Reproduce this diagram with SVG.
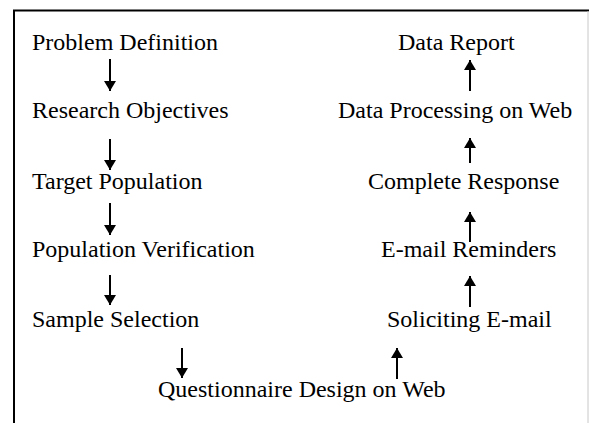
<svg xmlns="http://www.w3.org/2000/svg" width="589" height="423" viewBox="0 0 589 423">
<style>
text{font-family:"Liberation Serif","Times New Roman",serif;font-size:24px;fill:#000}
.c{stroke:#000;stroke-width:2;fill:none}
</style>
<defs>
<marker id="ah" viewBox="0 0 10 12" refX="10" refY="6" markerWidth="10" markerHeight="12" markerUnits="userSpaceOnUse" orient="auto">
<path d="M0,0 L10,6 L0,12 z" fill="#000"/>
</marker>
</defs>
<rect width="589" height="423" fill="#fff"/>
<g id="frame">
<line x1="13" y1="10.5" x2="589" y2="10.5" stroke="#000" stroke-width="2"/>
<line x1="14" y1="10" x2="14" y2="423" stroke="#000" stroke-width="2"/>
<line x1="588" y1="11" x2="588" y2="423" stroke="#c8c8c8" stroke-width="1"/>
</g>
<g id="n1"><text x="32" y="50">Problem Definition</text></g>
<g id="n2"><text x="32" y="118">Research Objectives</text></g>
<g id="n3"><text x="32" y="189">Target Population</text></g>
<g id="n4"><text x="32" y="257">Population Verification</text></g>
<g id="n5"><text x="32" y="327">Sample Selection</text></g>
<g id="n6"><text x="158" y="397">Questionnaire Design on Web</text></g>
<g id="n7"><text x="387" y="327">Soliciting E-mail</text></g>
<g id="n8"><text x="381" y="257">E-mail Reminders</text></g>
<g id="n9"><text x="368" y="189">Complete Response</text></g>
<g id="n10"><text x="338" y="118">Data Processing on Web</text></g>
<g id="n11"><text x="398" y="50">Data Report</text></g>
<g id="connectors" class="c">
<line x1="110" y1="59" x2="110" y2="91" marker-end="url(#ah)"/>
<line x1="110" y1="139" x2="110" y2="170" marker-end="url(#ah)"/>
<line x1="110" y1="203" x2="110" y2="235" marker-end="url(#ah)"/>
<line x1="110" y1="275" x2="110" y2="305" marker-end="url(#ah)"/>
<line x1="182" y1="348" x2="182" y2="378" marker-end="url(#ah)"/>
<line x1="397" y1="379" x2="397" y2="348" marker-end="url(#ah)"/>
<line x1="470" y1="307" x2="470" y2="276" marker-end="url(#ah)"/>
<line x1="470" y1="242" x2="470" y2="212" marker-end="url(#ah)"/>
<line x1="470" y1="163" x2="470" y2="138" marker-end="url(#ah)"/>
<line x1="470" y1="91" x2="470" y2="60" marker-end="url(#ah)"/>
</g>
</svg>
